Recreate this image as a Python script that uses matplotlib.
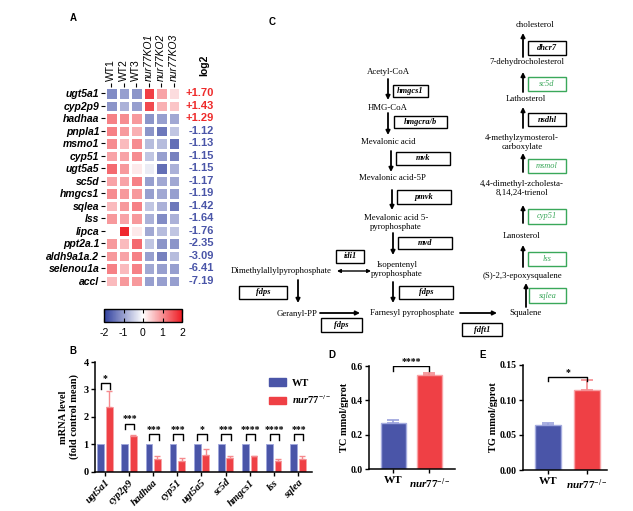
import numpy as np
import matplotlib
matplotlib.use("Agg")
import matplotlib.pyplot as plt
from matplotlib.colors import LinearSegmentedColormap
from matplotlib.patches import Rectangle, Patch
from matplotlib.cm import ScalarMappable
from matplotlib.colors import Normalize

plt.rcParams['font.family'] = ['Liberation Sans', 'DejaVu Sans']
plt.rcParams['axes.unicode_minus'] = False
plt.rcParams['mathtext.fontset'] = 'custom'
plt.rcParams['mathtext.it'] = 'Liberation Serif:italic:bold'
plt.rcParams['mathtext.rm'] = 'Liberation Serif:bold'
plt.rcParams['mathtext.bf'] = 'Liberation Serif:bold'

SERIF = ['Liberation Serif', 'DejaVu Serif']

# ---------------- data ----------------
# A: heatmap (row z-scores)
heat_genes = ["ugt5a1", "cyp2p9", "hadhaa", "pnpla1", "msmo1", "cyp51", "ugt5a5", "sc5d",
              "hmgcs1", "sqlea", "lss", "lipca", "ppt2a.1", "aldh9a1a.2", "selenou1a", "accl"]
heat_samples = ["WT1", "WT2", "WT3", "nur77KO1", "nur77KO2", "nur77KO3"]
heat_z = [
    [-1.2, -1.0, -1.1, 1.7, 0.8, 0.3],
    [-1.1, -0.8, -1.0, 1.6, 0.7, 0.5],
    [1.1, 1.0, 0.9, -1.1, -1.0, -0.9],
    [1.1, 0.9, 0.7, -1.1, -1.4, -0.6],
    [1.0, 0.6, 1.0, -0.7, -0.7, -1.5],
    [0.8, 0.8, 1.0, -0.6, -1.0, -1.3],
    [1.3, 0.9, 0.2, -0.2, -1.5, -0.8],
    [0.8, 0.8, 1.1, -1.0, -0.9, -0.9],
    [1.0, 0.9, 0.9, -1.0, -0.9, -1.0],
    [0.6, 0.9, 1.1, -0.6, -0.8, -1.4],
    [0.9, 0.8, 0.9, -0.8, -1.2, -0.8],
    [0.0, 1.9, 0.2, -0.9, -0.7, -0.6],
    [0.9, 0.6, 1.3, -0.6, -1.1, -1.1],
    [0.9, 0.8, 1.1, -1.0, -1.3, -0.7],
    [1.1, 0.6, 1.1, -0.9, -1.0, -1.0],
    [0.6, 0.9, 0.9, -1.0, -1.0, -1.0],
]
heat_log2 = [1.70, 1.43, 1.29, -1.12, -1.13, -1.15, -1.15, -1.17, -1.19, -1.42,
             -1.64, -1.76, -2.35, -3.09, -6.41, -7.19]

# B: qPCR
qpcr_genes = ["ugt5a1", "cyp2p9", "hadhaa", "cyp51", "ugt5a5", "sc5d", "hmgcs1", "lss", "sqlea"]
qpcr_wt = [1, 1, 1, 1, 1, 1, 1, 1, 1]
qpcr_ko = [2.36, 1.30, 0.48, 0.40, 0.61, 0.49, 0.56, 0.39, 0.46]
qpcr_ko_err = [0.58, 0.04, 0.08, 0.10, 0.22, 0.07, 0.02, 0.07, 0.10]
qpcr_sig = ["*", "***", "***", "***", "*", "***", "****", "****", "***"]
qpcr_bracket = [3.22, 1.74, 1.36, 1.36, 1.36, 1.36, 1.36, 1.36, 1.36]

# D / E
groups = ["WT", r"$\mathit{nur77}^{-/-}$"]
tc = [0.27, 0.55]
tc_err = [0.014, 0.012]
tg = [0.064, 0.115]
tg_err = [0.003, 0.014]

# C: pathway (text, x, y) in figure pixels
path_nodes = [
    ("Acetyl-CoA", 388, 72), ("HMG-CoA", 388, 108), ("Mevalonic acid", 388, 142),
    ("Mevalonic acid-5P", 392, 178), ("Mevalonic acid 5-\npyrophosphate", 396, 222.5),
    ("Isopentenyl\npyrophosphate", 397, 269.5), ("Dimethylallylpyrophosphate", 281, 271),
    ("Geranyl-PP", 297, 314), ("Farnesyl pyrophosphate", 412, 313), ("Squalene", 525, 313),
    ("(S)-2,3-epoxysqualene", 522, 276), ("Lanosterol", 522, 236),
    ("4,4-dimethyl-zcholesta-\n8,14,24-trienol", 522, 188.5),
    ("4-methylzymosterol-\ncarboxylate", 522, 142.5), ("Lathosterol", 526, 99),
    ("7-dehydrocholesterol", 527, 62), ("cholesterol", 535, 25),
]
path_boxes = [
    ("hmgcs1", 393, 85, 428, 97, "k"), ("hmgcra/b", 394, 116, 447, 128, "k"),
    ("mvk", 396, 152, 450, 165, "k"), ("pmvk", 397, 190, 451, 204, "k"),
    ("mvd", 398, 237, 452, 249, "k"), ("idi1", 336, 250, 364, 263, "k"),
    ("fdps", 239, 286, 287, 299, "k"), ("fdps", 399, 286, 453, 299, "k"),
    ("fdps", 321, 318, 362, 332, "k"), ("fdft1", 462, 323, 502, 336, "k"),
    ("dhcr7", 528, 41, 566, 55, "k"), ("sc5d", 528, 77, 566, 91, "g"),
    ("nsdhl", 528, 113, 566, 126, "k"), ("msmol", 528, 159, 566, 173, "g"),
    ("cyp51", 528, 209, 566, 224, "g"), ("lss", 528, 252, 566, 266, "g"),
    ("sqlea", 529, 288, 566, 303, "g"),
]
path_arrows = [
    (388, 79, 388, 100), (388, 113, 388, 135), (391, 151, 391, 172), (392, 190, 392, 210),
    (393, 233, 393, 255), (393, 282, 393, 303), (298, 280, 298, 303), (320, 313, 360, 313),
    (460, 313, 497, 313), (526, 307, 526, 283), (523, 267, 523, 245), (523, 223, 523, 205),
    (523, 172, 523, 153), (523, 128, 523, 107), (523, 92, 523, 72), (523, 57, 523, 33),
]

W, H = 633, 511
BLUE = '#4a55a8'
RED = '#ef4045'
GREEN = '#3aa85a'

fig = plt.figure(figsize=(W / 100, H / 100), dpi=100)


def px_axes(l, t, r, b):
    return fig.add_axes([l / W, 1 - b / H, (r - l) / W, (b - t) / H])


# overlay for panel C and panel letters
axo = fig.add_axes([0, 0, 1, 1])
axo.set_xlim(0, W)
axo.set_ylim(H, 0)
axo.axis('off')
for lab, x, y in [("A", 73, 18), ("C", 272, 22), ("B", 73, 351), ("D", 332, 355), ("E", 483, 355)]:
    axo.text(x, y, lab, fontsize=7, fontweight='bold', ha='center', va='center')

for txt, x, y in path_nodes:
    axo.text(x, y, txt, family=SERIF, fontsize=6.3, ha='center', va='center', linespacing=1.25)
for txt, x0, y0, x1, y1, c in path_boxes:
    col = GREEN if c == 'g' else 'black'
    axo.add_patch(Rectangle((x0, y0), x1 - x0, y1 - y0, fill=False, ec=col, lw=1.0))
    axo.text((x0 + x1) / 2, (y0 + y1) / 2, txt, family=SERIF, fontsize=6, style='italic',
             fontweight='normal' if c == 'g' else 'bold', color=col, ha='center', va='center')
for x0, y0, x1, y1 in path_arrows:
    axo.annotate('', xy=(x1, y1), xytext=(x0, y0),
                 arrowprops=dict(arrowstyle='-|>', lw=1.3, color='black', mutation_scale=6,
                                 shrinkA=0, shrinkB=0))
axo.annotate('', xy=(371, 271), xytext=(337, 271),
             arrowprops=dict(arrowstyle='<|-|>', lw=1.0, color='black', mutation_scale=5,
                             shrinkA=0, shrinkB=0))

# ---------------- A: heatmap ----------------
cmap = LinearSegmentedColormap.from_list('bwr2', ['#2f3f9e', '#ffffff', '#ee1c24'])
axh = px_axes(105, 87, 180, 287)
Z = np.array(heat_z)
axh.pcolormesh(np.arange(Z.shape[1] + 1), np.arange(Z.shape[0] + 1), Z, cmap=cmap,
               vmin=-2, vmax=2, edgecolors='white', linewidth=1.0)
axh.set_xlim(0, Z.shape[1])
axh.set_ylim(Z.shape[0], 0)
for s in axh.spines.values():
    s.set_visible(False)
axh.set_yticks(np.arange(len(heat_genes)) + 0.5)
axh.set_yticklabels(heat_genes, fontsize=7.5, fontweight='bold', style='italic')
axh.xaxis.tick_top()
axh.set_xticks(np.arange(len(heat_samples)) + 0.5)
axh.set_xticklabels(heat_samples, rotation=90, fontsize=7.5)
for t in axh.get_xticklabels()[3:]:
    t.set_style('italic')
axh.tick_params(length=3, width=0.8, pad=1)
for i, v in enumerate(heat_log2):
    axh.text(8.7, i + 0.5, f"{v:+.2f}", ha='right', va='center', fontsize=8,
             fontweight='bold', color='#ee2a2a' if v > 0 else '#4a55a8', clip_on=False)
axh.text(7.9, -1.75, "log2", rotation=90, ha='center', va='center', fontsize=7.5,
         fontweight='bold')

cax = px_axes(104, 309, 182, 322)
cb = fig.colorbar(ScalarMappable(Normalize(-2, 2), cmap), cax=cax, orientation='horizontal')
cb.set_ticks([-2, -1, 0, 1, 2])
cb.ax.tick_params(direction='in', length=3, width=0.8, labelsize=7.5, pad=4, top=True)
cb.outline.set_linewidth(1.0)

# ---------------- B: qPCR bars ----------------
axb = px_axes(95, 362, 312, 471.7)
x = np.arange(len(qpcr_genes))
bw = 0.28
off = 0.175
axb.bar(x - off, qpcr_wt, bw, color=BLUE, edgecolor='#9fa6dc', lw=0.6)
axb.bar(x + off, qpcr_ko, bw, color=RED, edgecolor='#f7a3a6', lw=0.6)
axb.errorbar(x + off, qpcr_ko, yerr=[np.zeros(len(x)), qpcr_ko_err], fmt='none',
             ecolor='#f58a8e', elinewidth=1, capsize=2.5, capthick=1)
for i in range(len(x)):
    h = qpcr_bracket[i]
    axb.plot([i - off, i - off, i + off + 0.05, i + off + 0.05], [h - 0.2, h, h, h - 0.2],
             color='black', lw=1)
    axb.text(i + 0.02, h + 0.02, qpcr_sig[i], ha='center', va='bottom', fontsize=7,
             family=SERIF, fontweight='bold')
axb.set_xlim(-0.41, 8.58)
axb.set_ylim(0, 4)
axb.set_yticks([0, 1, 2, 3, 4])
axb.set_xticks(x)
axb.set_xticklabels(qpcr_genes, rotation=45, ha='right', rotation_mode='anchor',
                    family=SERIF, fontweight='bold', style='italic', fontsize=7.5)
for t in axb.get_yticklabels():
    t.set_family(SERIF)
    t.set_fontweight('bold')
axb.tick_params(labelsize=7.5, length=3, width=1, pad=1.5)
axb.spines[['top', 'right']].set_visible(False)
for s in ['left', 'bottom']:
    axb.spines[s].set_linewidth(1.1)
axb.set_ylabel("mRNA level\n(fold control mean)", family=SERIF, fontweight='bold',
               fontsize=7.5, labelpad=3, linespacing=1.2)
handles = [Patch(color=BLUE, label="WT"), Patch(color=RED, label=groups[1])]
axb.legend(handles=handles, loc='upper left', bbox_to_anchor=(0.80, 0.85), frameon=False,
           borderpad=0, borderaxespad=0, handlelength=1.7, handleheight=0.7,
           handletextpad=0.5, labelspacing=0.6, prop=dict(family=SERIF, weight='bold', size=7.5))


# ---------------- D / E ----------------
def small_bar(ax, vals, errs, ylim, yticks, fmt, bw, ylabel, h, tick_drop, sig):
    xs = np.arange(2)
    ax.bar(xs, vals, bw, color=[BLUE, RED], edgecolor=['#a5acdf', '#f9a3a6'], lw=1.0)
    for xi, v, e, c in zip(xs, vals, errs, ['#9aa1dc', '#f58a8e']):
        ax.errorbar(xi, v, yerr=[[0], [e]], fmt='none', ecolor=c, elinewidth=1.2,
                    capsize=4, capthick=1.2)
    ax.plot([0, 0, 1, 1], [h - tick_drop, h, h, h - tick_drop], color='black', lw=1)
    ax.text(0.5, h, sig, ha='center', va='bottom', fontsize=7, family=SERIF, fontweight='bold')
    ax.set_ylim(*ylim)
    ax.set_yticks(yticks)
    ax.set_yticklabels([fmt.format(t) for t in yticks], family=SERIF, fontweight='bold')
    ax.set_xticks(xs)
    ax.set_xticklabels(groups, family=SERIF, fontweight='bold', fontsize=8)
    ax.tick_params(axis='y', labelsize=7, length=3, width=1, pad=1.5)
    ax.tick_params(axis='x', length=3, width=1, pad=2)
    ax.spines[['top', 'right']].set_visible(False)
    for s in ['left', 'bottom']:
        ax.spines[s].set_linewidth(1.1)
    ax.set_ylabel(ylabel, family=SERIF, fontweight='bold', fontsize=7.5, labelpad=1.5)


axd = px_axes(369, 366, 455, 469)
small_bar(axd, tc, tc_err, (0, 0.6), [0.0, 0.2, 0.4, 0.6], "{:.1f}", 0.69,
          "TC mmol/gprot", 0.6, 0.03, "****")
axd.set_xlim(-0.68, 1.71)

axe = px_axes(523, 365, 607, 470)
small_bar(axe, tg, tg_err, (0, 0.15), [0.0, 0.05, 0.10, 0.15], "{:.2f}", 0.67,
          "TG mmol/gprot", 0.133, 0.006, "*")
axe.set_xlim(-0.64, 1.51)

fig.savefig("out.png", dpi=100)
